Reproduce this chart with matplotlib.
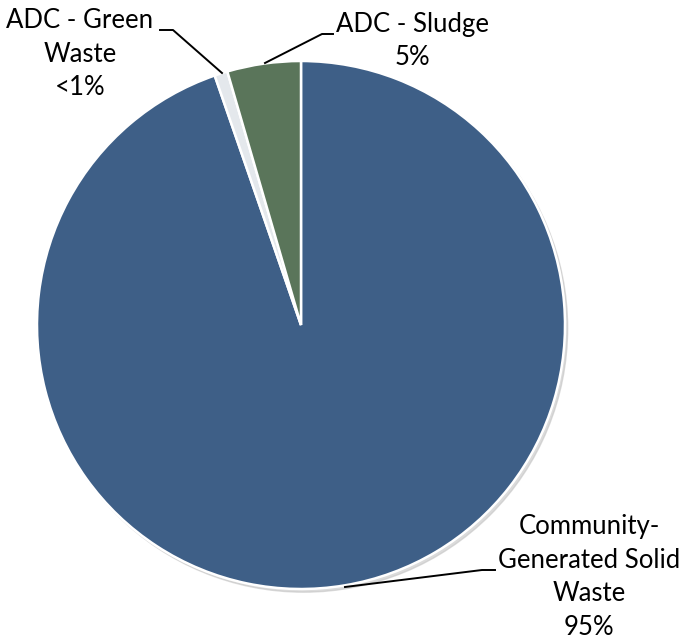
import matplotlib
matplotlib.use("Agg")
import matplotlib.pyplot as plt

labels = ["Community-\nGenerated Solid\nWaste\n95%", "ADC - Green\nWaste\n<1%", "ADC - Sludge\n5%"]
values = [94.7, 0.8, 4.5]
colors = ["#3E5F87", "#E4E8EC", "#5A755A"]

W, H = 686, 640
cx, cy, R = 301, 325, 264

fig = plt.figure(figsize=(W / 100, H / 100), dpi=100)
ax = fig.add_axes([(cx - R) / W, (H - cy - R) / H, 2 * R / W, 2 * R / H])
ax.axis("off")

def d(px, py):
    return ((px - cx) / R, (cy - py) / R)

# subtle shadow
shadow = plt.Circle((0.010, -0.012), 1.0, color="#C4C4C4", alpha=0.6, zorder=0, clip_on=False)
ax.add_patch(shadow)

ax.pie(values, colors=colors, startangle=90, counterclock=False, radius=1.0,
       wedgeprops=dict(edgecolor="white", linewidth=1.8))
ax.set_xlim(-1, 1)
ax.set_ylim(-1, 1)
ax.set_aspect("auto")

font = dict(family="Lato", fontsize=18.5, color="black", ha="center", va="center",
            linespacing=1.42)

# leader lines
lines = [
    [(345, 587), (482, 570), (495, 570)],
    [(222, 73), (173, 30), (160, 30)],
    [(265, 63), (322, 34), (333, 34)],
]
for pts in lines:
    xs, ys = zip(*[d(*p) for p in pts])
    ax.plot(xs, ys, color="black", lw=1.4, clip_on=False, zorder=5)

text_pos = [(589, 577), (80, 54), (412, 41)]
for lab, (px, py) in zip(labels, text_pos):
    x, y = d(px, py)
    ax.text(x, y, lab, clip_on=False, **font)

fig.savefig("out.png", dpi=100)
